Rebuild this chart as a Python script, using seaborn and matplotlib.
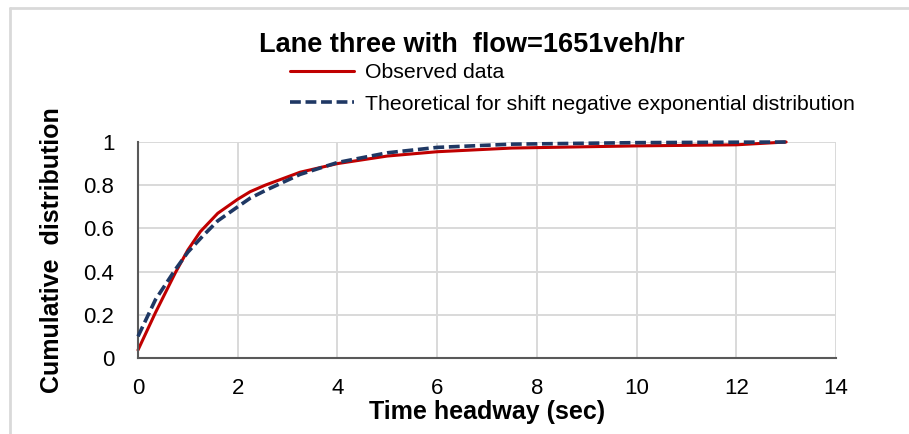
import pandas as pd
import matplotlib.pyplot as plt
import seaborn as sns
from matplotlib.lines import Line2D
from matplotlib.ticker import MultipleLocator

# headway (sec) and cumulative share
obs_x = [0, 0.35, 0.75, 1.0, 1.25, 1.6, 2.0, 2.25, 2.55, 3.25, 4.0, 5.0, 6.0, 7.5, 10, 12, 13]
obs_y = [0.037, 0.21, 0.395, 0.50, 0.585, 0.67, 0.735, 0.77, 0.80, 0.86, 0.90, 0.935, 0.955,
         0.972, 0.982, 0.987, 1.0]

theo_x = [0, 0.35, 0.75, 1.0, 1.3, 1.6, 2.0, 2.25, 2.55, 3.25, 4.0, 5.0, 6.0, 7.5, 10, 13]
theo_y = [0.10, 0.27, 0.41, 0.49, 0.565, 0.635, 0.70, 0.74, 0.775, 0.85, 0.905, 0.95, 0.975,
          0.99, 0.997, 1.0]

x_ticks = [0, 2, 4, 6, 8, 10, 12, 14]
y_ticks = [0, 0.2, 0.4, 0.6, 0.8, 1]
y_tick_labels = ["0", "0.2", "0.4", "0.6", "0.8", "1"]

obs = pd.DataFrame({"x": obs_x, "y": obs_y})
theo = pd.DataFrame({"x": theo_x, "y": theo_y})

sns.set_style("white")
plt.rcParams["font.family"] = ["Liberation Sans", "DejaVu Sans"]
plt.rcParams["text.color"] = "black"
plt.rcParams["axes.labelcolor"] = "black"

red = "#C00000"
navy = "#1F3864"
axis_grey = "#595959"

fig = plt.figure(figsize=(9.09, 4.34), dpi=100)
ax = fig.add_axes([138 / 909, 1 - 358 / 434, (836 - 138) / 909, (358 - 142) / 434])

ax.grid(True, color="#D9D9D9", linewidth=1.4)
ax.set_axisbelow(True)

sns.lineplot(data=theo, x="x", y="y", ax=ax, color=navy, linewidth=2.6, clip_on=False, zorder=3)
ax.lines[-1].set_dashes([3.0, 1.3])
sns.lineplot(data=obs, x="x", y="y", ax=ax, color=red, linewidth=2.2, clip_on=False, zorder=2)

ax.set_xlim(0, 14)
ax.set_ylim(0, 1)
ax.set_xticks(x_ticks)
ax.set_xticklabels([str(t) for t in x_ticks])
ax.set_yticks(y_ticks)
ax.set_yticklabels(y_tick_labels)
ax.xaxis.set_minor_locator(MultipleLocator(0.4))

for s in ["top", "right"]:
    ax.spines[s].set_visible(False)
for s in ["left", "bottom"]:
    ax.spines[s].set_color(axis_grey)
    ax.spines[s].set_linewidth(1.5)

ax.tick_params(axis="x", which="major", direction="inout", length=8.6, width=1.5,
               color=axis_grey, labelcolor="black", labelsize=16, pad=10)
ax.tick_params(axis="x", which="minor", direction="in", length=4.5, width=1.5, color=axis_grey)
ax.tick_params(axis="y", which="major", direction="out", length=5, width=1.5,
               color=axis_grey, labelcolor="black", labelsize=16, pad=12)

ax.set_xlabel("Time headway (sec)", fontsize=18, fontweight="bold", va="center")
ax.xaxis.set_label_coords(0.5, -(412 - 358) / 216)
ax.set_ylabel("Cumulative  distribution", fontsize=18, fontweight="bold", va="center")
ax.yaxis.set_label_coords(-(138 - 52) / 698, 0.5)

fig.text(472 / 909, 1 - 45 / 434, "Lane three with  flow=1651veh/hr", ha="center", va="center",
         fontsize=19.5, fontweight="bold")

handles = [Line2D([], [], color=red, linewidth=2.2),
           Line2D([], [], color=navy, linewidth=2.6, dashes=[3.0, 1.3])]
fig.legend(handles, ["Observed data", "Theoretical for shift negative exponential distribution"],
           loc="upper left", bbox_to_anchor=(290 / 909, 1 - 63 / 434), frameon=False,
           borderpad=0, borderaxespad=0, fontsize=15.3, handlelength=3.0, handletextpad=0.55,
           labelspacing=0.6)

# light frame left over from the original screenshot
fig.add_artist(Line2D([10 / 909, 10 / 909], [0, 1 - 8 / 434], transform=fig.transFigure,
                      color="#D9D9D9", linewidth=2))
fig.add_artist(Line2D([10 / 909, 1], [1 - 8 / 434, 1 - 8 / 434], transform=fig.transFigure,
                      color="#D9D9D9", linewidth=2))

fig.savefig("out.png", dpi=100)
